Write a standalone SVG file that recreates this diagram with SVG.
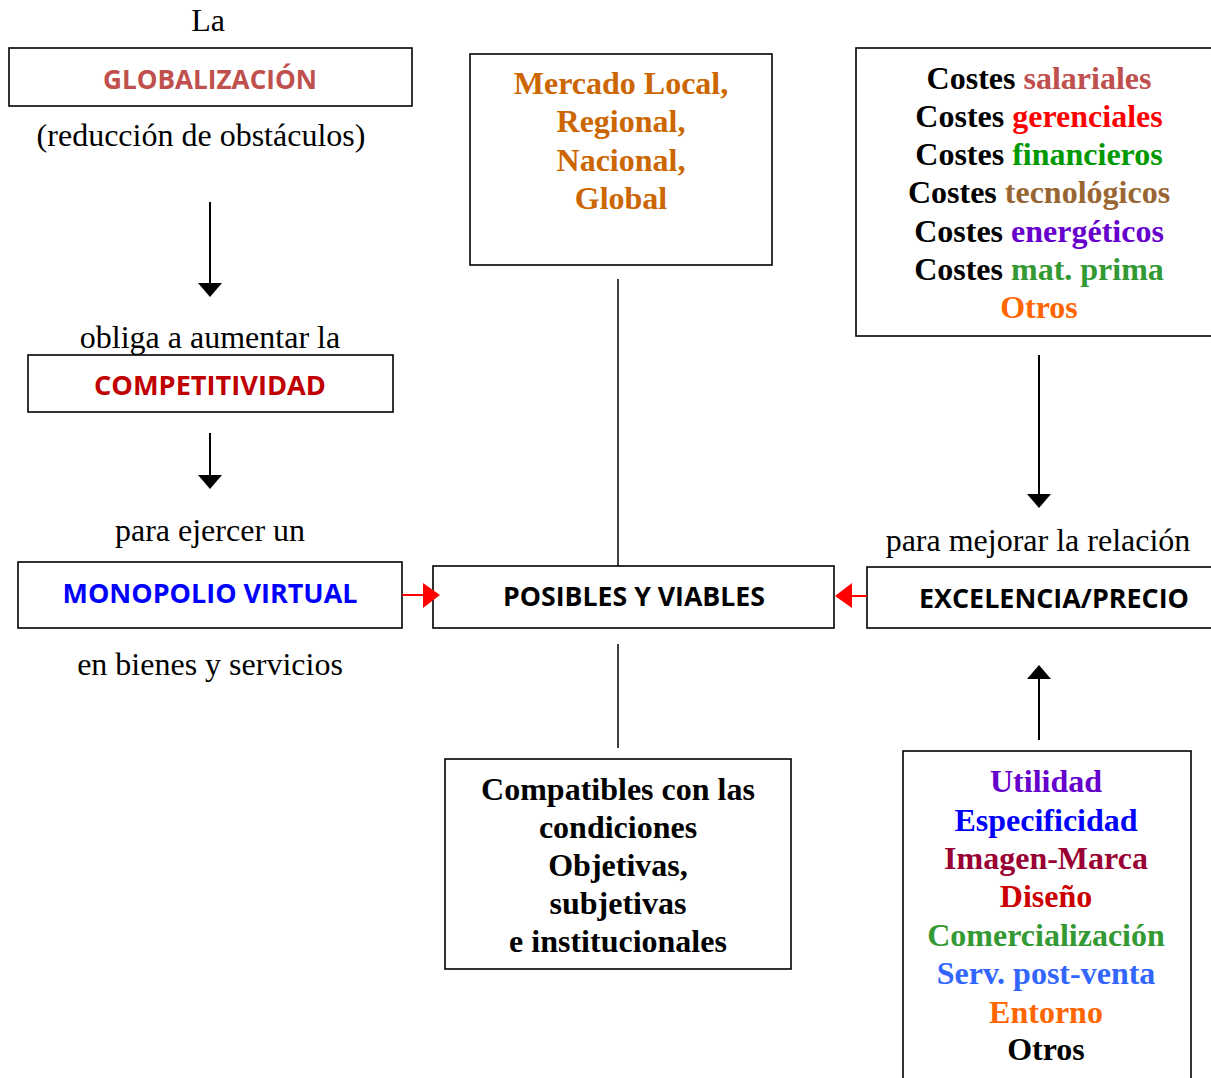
<svg xmlns="http://www.w3.org/2000/svg" width="1211" height="1078" viewBox="0 0 1211 1078">
<style>
.box{fill:#fff;stroke:#000;stroke-width:1.6}
.serif{font-family:"Liberation Serif","Times New Roman",serif;font-size:32px;text-anchor:middle}
.sb{font-family:"Liberation Serif","Times New Roman",serif;font-size:32px;font-weight:bold;text-anchor:middle}
.sans{font-family:"Open Sans",Lato,"Noto Sans",sans-serif;font-size:27px;font-weight:bold;text-anchor:middle}
.blk{stroke:#000;stroke-width:2;fill:none}
.red{stroke:#ff0000;stroke-width:2;fill:none}
</style>
<rect width="1211" height="1078" fill="#fff"/>

<g id="la-globalizacion">
<text class="serif" x="208" y="31">La</text>
<rect class="box" x="9" y="48" width="403" height="58"/>
<text class="sans" x="210" y="89" fill="#C0504D" textLength="214" lengthAdjust="spacingAndGlyphs">GLOBALIZACIÓN</text>
<text class="serif" x="201" y="146">(reducción de obstáculos)</text>
</g>

<g id="competitividad">
<text class="serif" x="210" y="348">obliga a aumentar la</text>
<rect class="box" x="28" y="355" width="365" height="57"/>
<text class="sans" x="210" y="395" fill="#C00000" textLength="232" lengthAdjust="spacingAndGlyphs">COMPETITIVIDAD</text>
</g>

<g id="monopolio">
<text class="serif" x="210" y="541">para ejercer un</text>
<rect class="box" x="18" y="562" width="384" height="66"/>
<text class="sans" x="210" y="603" fill="#0000FF" textLength="295" lengthAdjust="spacingAndGlyphs">MONOPOLIO VIRTUAL</text>
<text class="serif" x="210" y="675">en bienes y servicios</text>
</g>

<g id="posibles">
<rect class="box" x="433" y="566" width="401" height="62"/>
<text class="sans" x="634" y="606" fill="#000" textLength="262" lengthAdjust="spacingAndGlyphs">POSIBLES Y VIABLES</text>
</g>

<g id="mercado">
<rect class="box" x="470" y="54" width="302" height="211"/>
<g class="sb" fill="#CC6600">
<text x="621" y="94">Mercado Local,</text>
<text x="621" y="132">Regional,</text>
<text x="621" y="171">Nacional,</text>
<text x="621" y="209">Global</text>
</g>
</g>

<g id="compatibles">
<rect class="box" x="445" y="759" width="346" height="210"/>
<g class="sb" fill="#000">
<text x="618" y="800">Compatibles con las</text>
<text x="618" y="838">condiciones</text>
<text x="618" y="876">Objetivas,</text>
<text x="618" y="914">subjetivas</text>
<text x="618" y="952">e institucionales</text>
</g>
</g>

<g id="costes">
<rect class="box" x="856" y="48" width="370" height="288"/>
<g class="sb" fill="#000">
<text x="1039" y="89">Costes <tspan fill="#C0504D">salariales</tspan></text>
<text x="1039" y="127">Costes <tspan fill="#FF0000">gerenciales</tspan></text>
<text x="1039" y="165">Costes <tspan fill="#009900">financieros</tspan></text>
<text x="1039" y="203">Costes <tspan fill="#996633">tecnológicos</tspan></text>
<text x="1039" y="242">Costes <tspan fill="#6600CC">energéticos</tspan></text>
<text x="1039" y="280">Costes <tspan fill="#339933">mat. prima</tspan></text>
<text x="1039" y="318" fill="#FF6600">Otros</text>
</g>
</g>

<g id="excelencia">
<text class="serif" x="1038" y="551">para mejorar la relación</text>
<rect class="box" x="867" y="567" width="360" height="61"/>
<text class="sans" x="1054" y="608" fill="#000" textLength="270" lengthAdjust="spacingAndGlyphs">EXCELENCIA/PRECIO</text>
</g>

<g id="factores">
<rect class="box" x="903" y="751" width="288" height="340"/>
<g class="sb">
<text x="1046" y="792" fill="#6600CC">Utilidad</text>
<text x="1046" y="831" fill="#0000FF">Especificidad</text>
<text x="1046" y="869" fill="#990033">Imagen-Marca</text>
<text x="1046" y="907" fill="#CC0000">Diseño</text>
<text x="1046" y="946" fill="#339933">Comercialización</text>
<text x="1046" y="984" fill="#3366FF">Serv. post-venta</text>
<text x="1046" y="1023" fill="#FF6600">Entorno</text>
<text x="1046" y="1060" fill="#000">Otros</text>
</g>
</g>

<g id="connectors">
<line class="blk" x1="210" y1="202" x2="210" y2="285"/>
<polygon points="198,283 222,283 210,297" fill="#000"/>
<line class="blk" x1="210" y1="433" x2="210" y2="477"/>
<polygon points="198,475 222,475 210,489" fill="#000"/>
<line class="blk" x1="1039" y1="355" x2="1039" y2="496"/>
<polygon points="1027,494 1051,494 1039,508" fill="#000"/>
<line class="blk" x1="1039" y1="740" x2="1039" y2="677"/>
<polygon points="1027,679 1051,679 1039,665" fill="#000"/>
<line x1="618" y1="279" x2="618" y2="566" stroke="#000" stroke-width="1.5"/>
<line x1="618" y1="644" x2="618" y2="748" stroke="#000" stroke-width="1.5"/>
<line class="red" x1="402" y1="595" x2="426" y2="595"/>
<polygon points="423,583 423,608 440,595" fill="#ff0000"/>
<line class="red" x1="867" y1="596" x2="849" y2="596"/>
<polygon points="852,583 852,608 835,596" fill="#ff0000"/>
</g>
</svg>
